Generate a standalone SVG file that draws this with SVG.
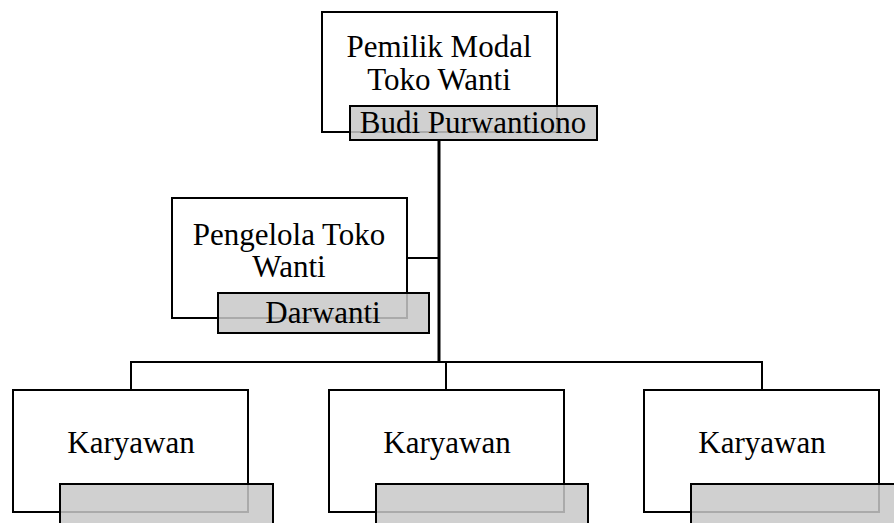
<svg xmlns="http://www.w3.org/2000/svg" width="894" height="523" viewBox="0 0 894 523">
<style>
.box{fill:#ffffff;stroke:#000000;stroke-width:2}
.tag{fill:#c8c8c8;fill-opacity:0.85;stroke:#000000;stroke-width:2}
.t{font-family:"Liberation Serif","Times New Roman",serif;font-size:31px;fill:#000000;text-anchor:middle}
.c{fill:none;stroke:#000000;stroke-width:2}
</style>
<rect width="894" height="523" fill="#ffffff"/>
<g id="connectors">
<path class="c" d="M439,140 V361" style="stroke-width:3"/>
<path class="c" d="M407,258 H439"/>
<path class="c" d="M131,390 V362 H762 V390"/>
<path class="c" d="M446,362 V390"/>
</g>
<g id="owner">
<rect class="box" x="322" y="12" width="235" height="120"/>
<text class="t" x="439" y="57">Pemilik Modal</text>
<text class="t" x="439" y="90">Toko Wanti</text>
<rect class="tag" x="350" y="106" width="247" height="34"/>
<text class="t" x="473" y="133">Budi Purwantiono</text>
</g>
<g id="manager">
<rect class="box" x="172" y="198" width="235" height="120"/>
<text class="t" x="289" y="245">Pengelola Toko</text>
<text class="t" x="289" y="277">Wanti</text>
<rect class="tag" x="218" y="293" width="211" height="40"/>
<text class="t" x="323" y="323">Darwanti</text>
</g>
<g id="staff1">
<rect class="box" x="13" y="390" width="235" height="122"/>
<text class="t" x="131" y="453">Karyawan</text>
<rect class="tag" x="60" y="484" width="213" height="42"/>
</g>
<g id="staff2">
<rect class="box" x="329" y="390" width="235" height="122"/>
<text class="t" x="447" y="453">Karyawan</text>
<rect class="tag" x="376" y="484" width="212" height="42"/>
</g>
<g id="staff3">
<rect class="box" x="644" y="390" width="235" height="122"/>
<text class="t" x="762" y="453">Karyawan</text>
<rect class="tag" x="691" y="484" width="213" height="42"/>
</g>
</svg>
